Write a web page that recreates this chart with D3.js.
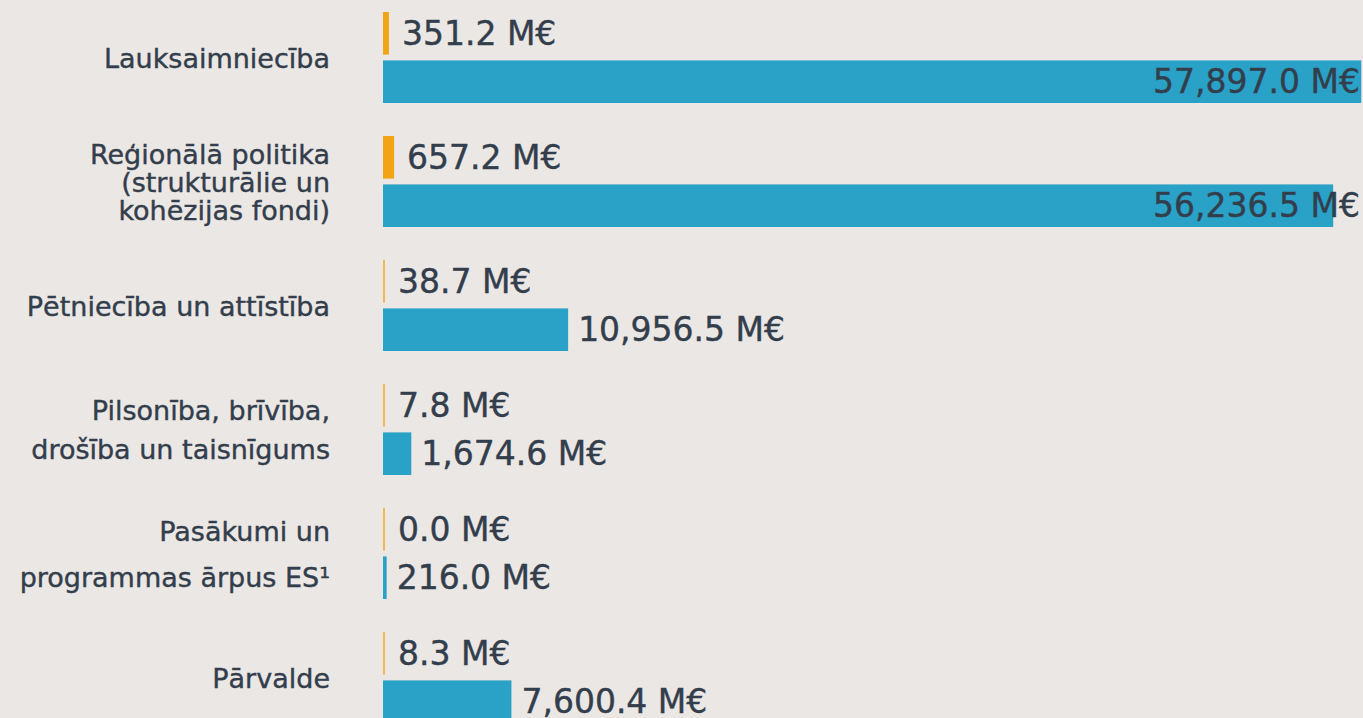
<!DOCTYPE html>
<html>
<head>
<meta charset="utf-8">
<script src="https://cdn.jsdelivr.net/npm/d3@7"></script>
<style>
  html, body { margin: 0; padding: 0; background: #ebe7e4; overflow: hidden; }
  svg { display: block; }
  text { font-family: "DejaVu Sans", sans-serif; }
</style>
</head>
<body>
<svg id="chart"></svg>
<script>
// categories (lines of each label), values in M€
var categories = [
    ["Lauksaimniecība"],
    ["Reģionālā politika", "(strukturālie un", "kohēzijas fondi)"],
    ["Pētniecība un attīstība"],
    ["Pilsonība, brīvība,", "drošība un taisnīgums"],
    ["Pasākumi un", "programmas ārpus ES¹"],
    ["Pārvalde"]
];
var latvia  = [351.2, 657.2, 38.7, 7.8, 0.0, 8.3];
var euTotal = [57897.0, 56236.5, 10956.5, 1674.6, 216.0, 7600.4];

var width = 1363;
var height = 718;
var margin = {left: 383, top: 12};

var orange = "#f1a514";
var blue = "#2aa1c7";
var textColor = "#333e4c";

// spacing between label lines, per category
var lineGap = [0, 28, 0, 39, 46, 0];

var svg = d3.select("#chart")
    .attr("width", width)
    .attr("height", height);

svg.append("rect")
    .attr("width", width)
    .attr("height", height)
    .attr("fill", "#ebe7e4");

var xAxis = d3.scaleLinear()
    .domain([0, 58000])
    .range([0, 980]);

var yAxis = d3.scaleBand()
    .domain(d3.range(categories.length))
    .range([margin.top, margin.top + 124 * categories.length]);

var sub = d3.scaleBand()
    .domain(["lv", "eu"])
    .range([0, 91])
    .paddingInner(0.12);

var rows = categories.map(function(c, i) {
    return {i: i, lines: c, lv: latvia[i], eu: euTotal[i]};
});

var fmt = d3.format(",.1f");

/* category labels */
var labels = svg.selectAll("text.cat")
    .data(rows)
    .join("text")
    .attr("class", "cat")
    .attr("x", 330)
    .attr("text-anchor", "end")
    .attr("fill", textColor)
    .attr("font-size", 27)
    .attr("stroke", textColor)
    .attr("stroke-width", 0.4)
    .attr("dominant-baseline", "central");

labels.each(function(d) {
    var n = d.lines.length;
    var mid = yAxis(d.i) + 45.5;
    var gap = lineGap[d.i];
    d3.select(this).selectAll("tspan")
        .data(d.lines)
        .join("tspan")
        .attr("x", 330)
        .attr("y", function(l, k) { return mid + (k - (n - 1) / 2) * gap; })
        .text(function(l) { return l; });
});

/* bars */
var g = svg.append("g")
    .attr("transform", "translate(" + margin.left + ",0)");

function barWidth(v) {
    return Math.max(2, xAxis(v));
}

g.selectAll("rect.lv")
    .data(rows)
    .join("rect")
    .attr("class", "lv")
    .attr("x", 0)
    .attr("y", d => yAxis(d.i) + sub("lv"))
    .attr("width", d => barWidth(d.lv))
    .attr("height", sub.bandwidth())
    .attr("fill", orange)
    .attr("opacity", d => xAxis(d.lv) < 2 ? 0.7 : 1);

g.selectAll("rect.eu")
    .data(rows)
    .join("rect")
    .attr("class", "eu")
    .attr("x", 0)
    .attr("y", d => yAxis(d.i) + sub("eu"))
    .attr("width", d => barWidth(d.eu))
    .attr("height", sub.bandwidth())
    .attr("fill", blue);

/* value labels */
function valueLabels(cls, key, offset) {
    g.selectAll("text." + cls)
        .data(rows)
        .join("text")
        .attr("class", cls)
        .attr("font-size", 33)
        .attr("fill", textColor)
        .attr("stroke", textColor)
        .attr("stroke-width", 0.4)
        .attr("dominant-baseline", "central")
        .attr("y", d => yAxis(d.i) + sub(key) + sub.bandwidth() / 2)
        .text(d => fmt(d[key]) + " M€")
        .each(function(d) {
            var w = this.getComputedTextLength();
            var x = barWidth(d[key]) + offset;
            var el = d3.select(this);
            if (margin.left + x + w > width - 2) {
                el.attr("x", width - margin.left - 3).attr("text-anchor", "end");
            } else {
                el.attr("x", x).attr("text-anchor", "start");
            }
        });
}
valueLabels("lvLabel", "lv", 13);
valueLabels("euLabel", "eu", 10);
</script>
</body>
</html>
